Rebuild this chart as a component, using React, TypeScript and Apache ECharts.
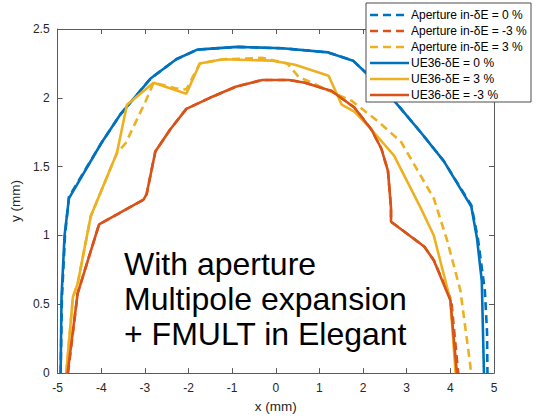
import React, { useEffect, useRef } from "react";
import * as echarts from "echarts";

const seriesNames = [
  "Aperture in-δE = 0 %",
  "Aperture in-δE = -3 %",
  "Aperture in-δE = 3 %",
  "UE36-δE = 0 %",
  "UE36-δE = 3 %",
  "UE36-δE = -3 %",
];

const apertureP0: number[][] = [
  [-4.93, 0], [-4.9, 0.55], [-4.83, 1.0], [-4.74, 1.28], [-4.0, 1.67], [-3.56, 1.88],
  [-2.87, 2.14], [-2.28, 2.28], [-1.8, 2.35], [-0.9, 2.37], [0.15, 2.36], [1.2, 2.33],
  [1.77, 2.27], [2.07, 2.18], [2.41, 2.09], [2.87, 1.92], [3.32, 1.75], [3.85, 1.54],
  [4.48, 1.22], [4.63, 0.98], [4.79, 0.6], [4.84, 0.3], [4.85, 0],
];

const apertureM3: number[][] = [
  [-4.76, 0], [-4.54, 0.58], [-4.05, 1.08], [-3.03, 1.26], [-2.96, 1.3], [-2.76, 1.61],
  [-2.42, 1.77], [-2.05, 1.92], [-1.51, 2.0], [-0.92, 2.08], [-0.31, 2.13], [0.3, 2.13],
  [0.67, 2.11], [1.28, 2.05], [1.8, 1.93], [2.19, 1.77], [2.42, 1.63], [2.57, 1.47],
  [2.64, 1.2], [2.64, 1.1], [3.4, 0.92], [3.62, 0.82], [4.02, 0.53], [4.18, 0],
];

const apertureP3: number[][] = [
  [-4.8, 0], [-4.65, 0.55], [-4.54, 0.65], [-4.24, 1.14], [-3.64, 1.6], [-3.44, 1.67],
  [-2.99, 1.97], [-2.8, 2.11], [-2.3, 2.07], [-2.05, 2.06], [-1.74, 2.25], [-1.2, 2.28],
  [-0.3, 2.29], [0.26, 2.25], [0.53, 2.15], [0.9, 2.1], [1.3, 2.04], [1.73, 1.98],
  [2.34, 1.83], [2.87, 1.68], [3.62, 1.27], [3.93, 0.96], [4.23, 0.6], [4.46, 0.05], [4.47, 0],
];

const ue36P0: number[][] = [
  [-4.93, 0], [-4.91, 0.55], [-4.84, 1.0], [-4.74, 1.27], [-4.0, 1.67], [-3.56, 1.88],
  [-2.87, 2.14], [-2.28, 2.28], [-1.8, 2.35], [-0.9, 2.37], [0.15, 2.36], [1.2, 2.33],
  [1.77, 2.27], [2.07, 2.18], [2.41, 2.09], [2.87, 1.92], [3.32, 1.75], [3.85, 1.54],
  [4.48, 1.21], [4.61, 0.98], [4.72, 0.67], [4.77, 0],
];

const ue36P3: number[][] = [
  [-4.8, 0], [-4.65, 0.55], [-4.54, 0.65], [-4.24, 1.14], [-3.64, 1.6], [-3.41, 1.95],
  [-2.8, 2.11], [-2.05, 2.03], [-1.74, 2.25], [-1.21, 2.28], [-0.08, 2.27], [0.44, 2.24],
  [1.21, 2.16], [1.51, 1.95], [1.8, 1.9], [2.19, 1.77], [2.71, 1.58], [3.32, 1.2],
  [3.62, 1.0], [4.0, 0.53], [4.12, 0],
];

const ue36M3: number[][] = [
  [-4.77, 0], [-4.54, 0.58], [-4.05, 1.08], [-3.03, 1.26], [-2.96, 1.3], [-2.76, 1.61],
  [-2.42, 1.77], [-2.05, 1.92], [-1.51, 2.0], [-0.92, 2.08], [-0.31, 2.13], [0.3, 2.13],
  [0.67, 2.11], [1.28, 2.05], [1.8, 1.93], [2.19, 1.77], [2.42, 1.63], [2.57, 1.47],
  [2.64, 1.2], [2.64, 1.1], [3.4, 0.92], [3.62, 0.82], [4.0, 0.53], [4.15, 0],
];

const seriesData = [apertureP0, apertureM3, apertureP3, ue36P0, ue36P3, ue36M3];
const seriesColors = ["#0072BD", "#D95319", "#EDB120", "#0072BD", "#EDB120", "#D95319"];
const seriesDashed = [true, true, true, false, false, false];

const annotationLines = ["With aperture", "Multipole expansion", "+ FMULT in Elegant"];

const FONT = "Liberation Sans";
const LEGEND_FS = 12;
const DASH = [8, 5];

export default function App() {
  const ref = useRef<HTMLDivElement>(null);

  useEffect(() => {
    if (!ref.current) return;
    const chart = echarts.init(ref.current, undefined, { renderer: "svg" });
    const axisLineStyle = { color: "#5a5a5a", width: 1 };
    const labelStyle = { color: "#262626", fontSize: 12, fontFamily: FONT };
    const nameStyle = { color: "#262626", fontSize: 13.5, fontFamily: FONT };

    // legend drawn as graphic elements (box, line samples, texts)
    const legendLeft = 366;
    const legendTop = 3;
    const rowH = 16;
    const legendItems: any[] = [
      {
        type: "rect",
        shape: { x: legendLeft, y: legendTop, width: 165, height: 99 },
        style: { fill: "#ffffff", stroke: "#4d4d4d", lineWidth: 1 },
        z: 20,
      },
    ];
    seriesNames.forEach((name, i) => {
      const cy = legendTop + 12 + i * rowH;
      legendItems.push({
        type: "line",
        shape: { x1: legendLeft + 4, y1: cy, x2: legendLeft + 43, y2: cy },
        style: {
          stroke: seriesColors[i],
          lineWidth: 2.6,
          lineDash: seriesDashed[i] ? DASH : null,
        },
        z: 21,
      });
      legendItems.push({
        type: "text",
        x: legendLeft + 45,
        y: cy,
        z: 21,
        style: {
          text: name,
          verticalAlign: "middle",
          align: "left",
          fill: "#000",
          fontSize: LEGEND_FS,
          fontFamily: FONT,
        },
      });
    });

    chart.setOption({
      animation: false,
      backgroundColor: "#ffffff",
      grid: { left: 53, right: 45, top: 29, bottom: 41, containLabel: false },
      xAxis: [
        {
          type: "value",
          min: -5,
          max: 5,
          interval: 1,
          position: "bottom",
          name: "x (mm)",
          nameLocation: "middle",
          nameGap: 24,
          nameTextStyle: nameStyle,
          axisLine: { show: true, onZero: false, lineStyle: axisLineStyle },
          axisTick: { show: true, inside: true, length: 5, lineStyle: axisLineStyle },
          axisLabel: { ...labelStyle, margin: 9 },
          splitLine: { show: false },
        },
        {
          type: "value",
          min: -5,
          max: 5,
          interval: 1,
          position: "top",
          axisLine: { show: true, onZero: false, lineStyle: axisLineStyle },
          axisTick: { show: true, inside: true, length: 5, lineStyle: axisLineStyle },
          axisLabel: { show: false },
          splitLine: { show: false },
        },
      ],
      yAxis: [
        {
          type: "value",
          min: 0,
          max: 2.5,
          interval: 0.5,
          position: "left",
          name: "y (mm)",
          nameLocation: "middle",
          nameGap: 35,
          nameRotate: 90,
          nameTextStyle: nameStyle,
          axisLine: { show: true, onZero: false, lineStyle: axisLineStyle },
          axisTick: { show: true, inside: true, length: 5, lineStyle: axisLineStyle },
          axisLabel: { ...labelStyle, margin: 8 },
          splitLine: { show: false },
        },
        {
          type: "value",
          min: 0,
          max: 2.5,
          interval: 0.5,
          position: "right",
          axisLine: { show: true, onZero: false, lineStyle: axisLineStyle },
          axisTick: { show: true, inside: true, length: 5, lineStyle: axisLineStyle },
          axisLabel: { show: false },
          splitLine: { show: false },
        },
      ],
      graphic: [
        {
          type: "text",
          left: 124,
          top: 246,
          z: 10,
          style: {
            text: annotationLines.join("\n"),
            fontSize: 32,
            lineHeight: 35,
            fontFamily: FONT,
            fill: "#000000",
          },
        },
        ...legendItems,
      ],
      series: seriesNames.map((name, i) => ({
        name,
        type: "line",
        data: seriesData[i],
        xAxisIndex: 0,
        yAxisIndex: 0,
        showSymbol: false,
        symbol: "none",
        color: seriesColors[i],
        lineStyle: {
          color: seriesColors[i],
          width: 2.6,
          type: seriesDashed[i] ? DASH : "solid",
        },
        z: seriesDashed[i] ? 2 : 3,
      })),
    });

    return () => chart.dispose();
  }, []);

  return <div ref={ref} style={{ width: 539, height: 418, position: "absolute", left: 0, top: 0 }} />;
}
